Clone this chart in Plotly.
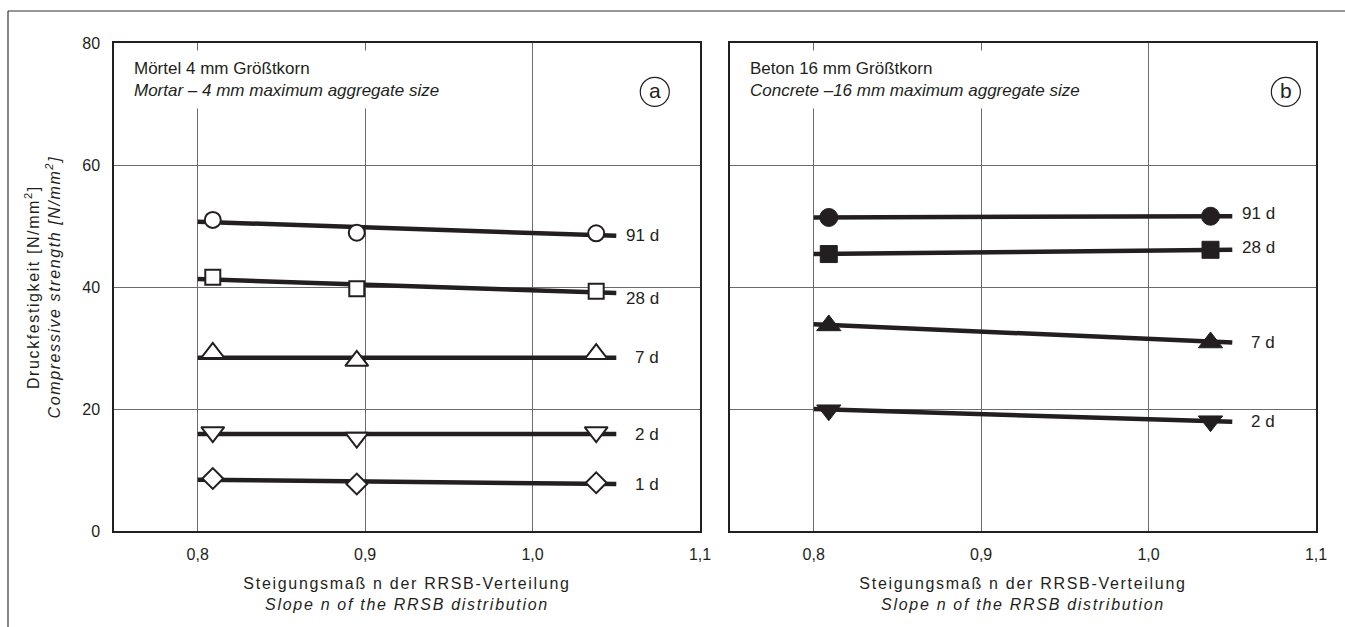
import plotly.graph_objects as go

# Slope n of the RRSB distribution at which the specimens were tested
x_mortar = [0.809, 0.895, 1.038]
x_concrete = [0.809, 1.037]

ages = ["91 d", "28 d", "7 d", "2 d", "1 d"]

# Mortar, 4 mm maximum aggregate size (measured strengths, N/mm²)
mortar_91 = [51.0, 48.9, 48.8]
mortar_28 = [41.6, 39.7, 39.3]
mortar_7 = [29.2, 27.9, 29.0]
mortar_2 = [16.2, 15.3, 16.2]
mortar_1 = [8.6, 7.7, 7.9]

# Concrete, 16 mm maximum aggregate size (measured strengths, N/mm²)
concrete_91 = [51.4, 51.6]
concrete_28 = [45.4, 46.1]
concrete_7 = [33.7, 30.9]
concrete_2 = [19.8, 18.0]

# Regression lines: value at n = 0.80 and at n = 1.05
fit_x = [0.80, 1.05]
mortar_fit = {
    "91 d": [50.7, 48.4],
    "28 d": [41.3, 39.0],
    "7 d": [28.4, 28.4],
    "2 d": [15.9, 15.9],
    "1 d": [8.4, 7.7],
}
concrete_fit = {
    "91 d": [51.4, 51.6],
    "28 d": [45.4, 46.1],
    "7 d": [33.9, 30.9],
    "2 d": [20.0, 17.9],
}

x_ticks = [0.8, 0.9, 1.0, 1.1]
y_ticks = [0, 20, 40, 60, 80]

INK = "#231f20"
GRID = "#6b6b6b"
FONT = "Liberation Sans, Arial, sans-serif"

mortar_series = [
    ("91 d", mortar_91, "circle"),
    ("28 d", mortar_28, "square"),
    ("7 d", mortar_7, "triangle-up"),
    ("2 d", mortar_2, "triangle-down"),
    ("1 d", mortar_1, "diamond"),
]
concrete_series = [
    ("91 d", concrete_91, "circle"),
    ("28 d", concrete_28, "square"),
    ("7 d", concrete_7, "triangle-up"),
    ("2 d", concrete_2, "triangle-down"),
]
marker_size = {"circle": 16, "square": 15, "triangle-up": 20,
               "triangle-down": 20, "diamond": 16}
filled_size = {"circle": 18, "square": 17, "triangle-up": 21,
               "triangle-down": 21}

fig = go.Figure()

for name, vals, sym in mortar_series:
    fig.add_trace(go.Scatter(
        x=fit_x, y=mortar_fit[name], mode="lines",
        line=dict(color=INK, width=4.5), xaxis="x", yaxis="y",
        showlegend=False, hoverinfo="skip"))
    fig.add_trace(go.Scatter(
        x=x_mortar, y=vals, mode="markers", name=name,
        marker=dict(symbol=sym, size=marker_size[sym], color="white",
                    line=dict(color=INK, width=2)),
        xaxis="x", yaxis="y", showlegend=False))

for name, vals, sym in concrete_series:
    fig.add_trace(go.Scatter(
        x=fit_x, y=concrete_fit[name], mode="lines",
        line=dict(color=INK, width=4.5), xaxis="x2", yaxis="y2",
        showlegend=False, hoverinfo="skip"))
    fig.add_trace(go.Scatter(
        x=x_concrete, y=vals, mode="markers", name=name,
        marker=dict(symbol=sym, size=filled_size[sym], color=INK,
                    line=dict(color=INK, width=1)),
        xaxis="x2", yaxis="y2", showlegend=False))

W, H = 1345, 627
dom_x1 = [114 / W, 700 / W]
dom_x2 = [730 / W, 1316 / W]
dom_y = [1 - 531 / H, 1 - 43 / H]

axis_common = dict(
    range=[0.75, 1.1], tickvals=x_ticks, tickformat=".1f",
    showgrid=True, gridcolor=GRID, gridwidth=1, zeroline=False,
    showline=True, linecolor=INK, linewidth=1.5, mirror=True,
    ticks="", ticklabelstandoff=8, automargin=False,
    tickfont=dict(family=FONT, size=16, color=INK),
    title=dict(text="Steigungsmaß n der RRSB-Verteilung<br><i>Slope n of the RRSB distribution</i>",
               font=dict(family=FONT, size=16, color=INK), standoff=16),
)
yaxis_common = dict(
    range=[0, 80], tickvals=y_ticks, showgrid=True, gridcolor=GRID, gridwidth=1,
    zeroline=False, showline=True, linecolor=INK, linewidth=1.5, mirror=True,
    ticks="", domain=dom_y, automargin=False,
)

annotations = []
# age labels at the right end of each regression line
label_shift_m = {"28 d": -5}
label_shift_c = {"91 d": 3, "28 d": 2}
for name in ages:
    annotations.append(dict(
        x=1.077, y=mortar_fit[name][1], xref="x", yref="y", text=name,
        showarrow=False, xanchor="right", yanchor="middle",
        yshift=label_shift_m.get(name, 0),
        font=dict(family=FONT, size=17, color=INK)))
for name in concrete_fit:
    annotations.append(dict(
        x=1.077, y=concrete_fit[name][1], xref="x2", yref="y2", text=name,
        showarrow=False, xanchor="right", yanchor="middle",
        yshift=label_shift_c.get(name, 0),
        font=dict(family=FONT, size=17, color=INK)))

# panel captions (white box interrupts the grid behind the text)
captions = [
    ("x domain", "y domain",
     "Mörtel 4 mm Größtkorn<br><i>Mortar – 4 mm maximum aggregate size</i>"),
    ("x2 domain", "y2 domain",
     "Beton 16 mm Größtkorn<br><i>Concrete –16 mm maximum aggregate size</i>"),
]
for xr, yr, txt in captions:
    annotations.append(dict(
        x=0.0188, y=0.986, xref=xr, yref=yr, xanchor="left", yanchor="top",
        text=txt, align="left", showarrow=False, bgcolor="white", borderpad=8,
        font=dict(family=FONT, size=17, color=INK)))

# panel letters
for xr, yr, letter, cx in [("x", "y", "a", 1.073), ("x2", "y2", "b", 1.082)]:
    annotations.append(dict(
        x=cx, y=72, xref=xr, yref=yr, text=letter, showarrow=False,
        xanchor="center", yanchor="middle", yshift=1,
        font=dict(family=FONT, size=21, color=INK)))

# y axis title
annotations.append(dict(
    x=43 / W, y=(dom_y[0] + dom_y[1]) / 2, xref="paper", yref="paper",
    text="Druckfestigkeit [N/mm<sup>2</sup>]<br><i>Compressive strength [N/mm<sup>2</sup>]</i>",
    textangle=-90, showarrow=False, xanchor="center", yanchor="middle",
    font=dict(family=FONT, size=16, color=INK)))

shapes = []
for xr, yr, cx in [("x", "y", 1.073), ("x2", "y2", 1.082)]:
    shapes.append(dict(
        type="circle", xref=xr, yref=yr, xsizemode="pixel", ysizemode="pixel",
        xanchor=cx, yanchor=72, x0=-14.5, x1=14.5, y0=-14.5, y1=14.5,
        line=dict(color=INK, width=1.2), fillcolor="rgba(0,0,0,0)"))
# outer frame (top and left edges)
shapes.append(dict(type="line", xref="paper", yref="paper",
                   x0=8 / W, x1=1.0, y0=1 - 11 / H, y1=1 - 11 / H,
                   line=dict(color="#333333", width=1.2)))
shapes.append(dict(type="line", xref="paper", yref="paper",
                   x0=8 / W, x1=8 / W, y0=0, y1=1 - 11 / H,
                   line=dict(color="#333333", width=1.2)))

fig.update_layout(
    width=W, height=H,
    margin=dict(l=0, r=0, t=0, b=0, pad=0, autoexpand=False),
    paper_bgcolor="white", plot_bgcolor="white",
    separators=",.",
    font=dict(family=FONT, size=16, color=INK),
    xaxis=dict(domain=dom_x1, anchor="y", **axis_common),
    xaxis2=dict(domain=dom_x2, anchor="y2", **axis_common),
    yaxis=dict(anchor="x", showticklabels=True, ticklabelstandoff=9,
               tickfont=dict(family=FONT, size=16, color=INK), **yaxis_common),
    yaxis2=dict(anchor="x2", showticklabels=False, **yaxis_common),
    annotations=annotations,
    shapes=shapes,
)

# page without body margin; axis titles set with open letter spacing
post = """
document.body.style.margin = '0';
document.body.style.overflow = 'hidden';
document.querySelectorAll('.xtitle, .x2title').forEach(function (t) {
    t.style.letterSpacing = '1.7px';
});
document.querySelectorAll('.annotation-text').forEach(function (t) {
    if (t.textContent.indexOf('Druckfestigkeit') >= 0) {
        t.style.letterSpacing = '1.6px';
    }
});
"""

fig.write_html("out.html", post_script=post)
